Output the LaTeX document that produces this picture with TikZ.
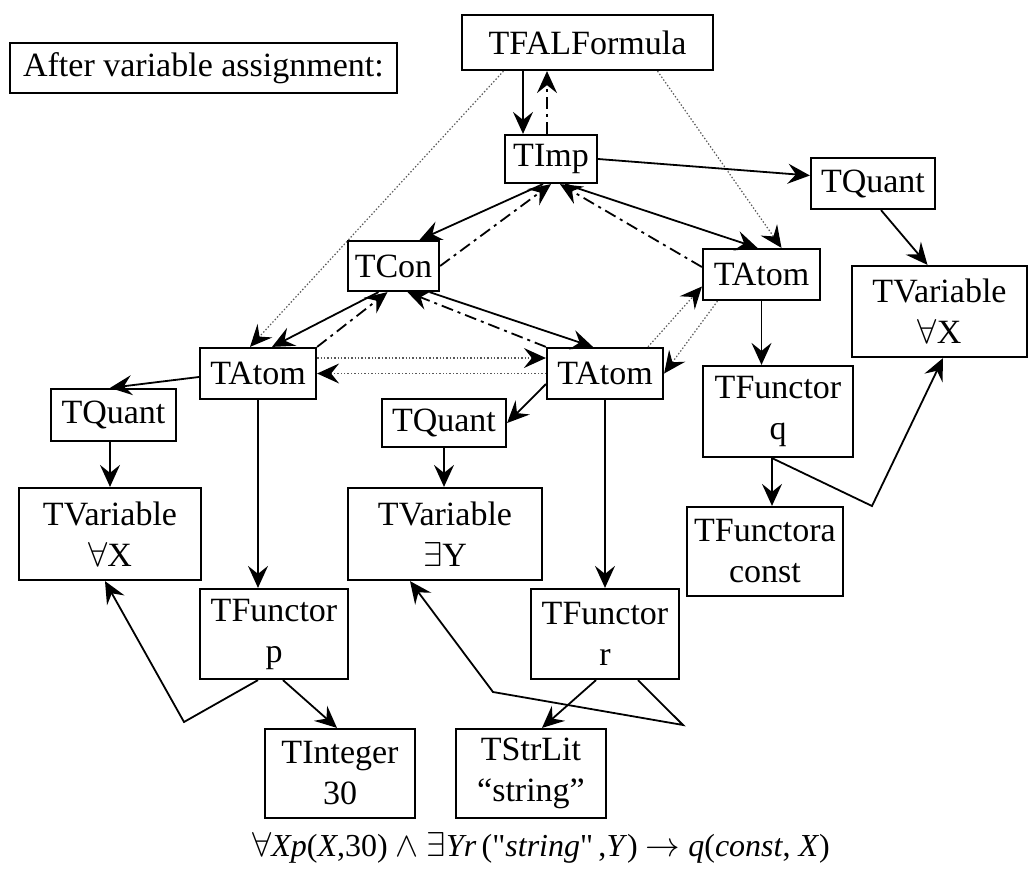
\documentclass[tikz,border=0pt]{standalone}
\usepackage{fontspec}
\setmainfont{Liberation Serif}
\newfontfamily\eqfont[Ligatures=TeXOff]{Liberation Serif}
\usetikzlibrary{arrows.meta}
\tikzset{
  box/.style={draw, line width=1.1pt, inner sep=0pt, align=center,
    font=\fontsize{17}{20.5}\selectfont},
  fwd/.style={-{Stealth[length=11pt,width=10pt,inset=4pt]}, line width=0.9pt},
  back/.style={fwd, dash pattern=on 6pt off 2.5pt on 1.5pt off 2.5pt},
  link/.style={-{Stealth[length=11pt,width=10pt,inset=4pt,color=black]},
    line width=0.6pt, draw=black!65, dash pattern=on 0.7pt off 1pt}
}
\begin{document}
\begin{tikzpicture}[x=0.5pt,y=-0.5pt]
            \useasboundingbox (0,0) rectangle (1029,884);
            \node[box,anchor=west,minimum height=25pt,inner xsep=6.5pt] (Note) at (9,68) {After variable assignment:};
            \node[box,minimum width=125.5pt,minimum height=27.5pt] (F) at (587.5,42.5) {TFALFormula};
            \node[box,minimum width=46pt,minimum height=24pt] (Imp) at (551,159) {TImp};
            \node[box,minimum width=62pt,minimum height=25.5pt] (QuR) at (873,183.5) {TQuant};
            \node[box,minimum width=45.5pt,minimum height=25pt] (Con) at (393.5,266) {TCon};
            \node[box,minimum width=58.5pt,minimum height=25.5pt] (AtR) at (761.5,274.5) {TAtom};
            \node[box,minimum width=87.5pt,minimum height=45.5pt] (VaR) at (939.5,311.5) {TVariable\\$\forall$X};
            \node[box,minimum width=58pt,minimum height=25.5pt] (AtL) at (258,373.5) {TAtom};
            \node[box,minimum width=58pt,minimum height=25.5pt] (AtM) at (605,373.5) {TAtom};
            \node[box,minimum width=62.5pt,minimum height=26pt] (QuL) at (113.5,415) {TQuant};
            \node[box,minimum width=62pt,minimum height=24pt] (QuM) at (444,423) {TQuant};
            \node[box,minimum width=75pt,minimum height=45.5pt] (FnQ) at (778,411.5) {TFunctor\\q};
            \node[box,minimum width=91pt,minimum height=46pt] (VaL) at (110,534) {TVariable\\$\forall$X};
            \node[box,minimum width=97pt,minimum height=46pt] (VaM) at (445,534) {TVariable\\$\exists$Y};
            \node[box,minimum width=78pt,minimum height=44.5pt] (Cst) at (765,551.5) {TFunctora\\const};
            \node[box,minimum width=74pt,minimum height=45pt] (FnP) at (274,634) {TFunctor\\p};
            \node[box,minimum width=74pt,minimum height=45pt] (FnR) at (605,634) {TFunctor\\r};
            \node[box,minimum width=75pt,minimum height=44.5pt] (Int) at (340,773.5) {TInteger\\30};
            \node[box,minimum width=75pt,minimum height=44.5pt] (Str) at (531,773.5) {TStrLit\\``string''};
            \node[font=\eqfont\fontsize{16}{19}\selectfont] (Eq) at (541,848) {$\forall$\textit{Xp}(\textit{X},30) $\wedge$ $\exists$\textit{Yr}\,("\textit{string}"\,,\textit{Y}) $\rightarrow$ \textit{q}(\textit{const}, \textit{X})};
            \draw[fwd] ([xshift=-32.25pt]F.south) -- ([xshift=-14pt]Imp.north);
            \draw[back] ([xshift=-2pt]Imp.north) -- ([xshift=-20.25pt]F.south);
            \draw[link] ([xshift=-42pt]F.south) -- ([xshift=-4pt]AtL.north);
            \draw[link] ([xshift=35pt]F.south) -- ([xshift=10pt]AtR.north);
            \draw[fwd] (Imp.east) -- ([yshift=4pt]QuR.west);
            \draw[fwd] ([xshift=-4pt]Imp.south) -- ([xshift=13pt]Con.north);
            \draw[back] (Con.east) -- (Imp.south);
            \draw[fwd] ([xshift=7pt]Imp.south) -- ([xshift=-2pt]AtR.north);
            \draw[back] ([yshift=3.75pt]AtR.west) -- ([xshift=4.5pt]Imp.south);
            \draw[fwd] ([xshift=-7.5pt]Con.south) -- ([xshift=7pt]AtL.north);
            \draw[back] (AtL.north east) -- ([xshift=-3pt]Con.south);
            \draw[fwd] ([xshift=18pt]Con.south) -- ([xshift=-6pt]AtM.north);
            \draw[back] (AtM.north west) -- ([xshift=7pt]Con.south);
            \draw[link] ([yshift=7.75pt]AtL.east) -- ([yshift=7.75pt]AtM.west);
            \draw[link] (AtM.west) -- (AtL.east);
            \draw[link] ([xshift=21.5pt]AtM.north) -- ([yshift=-6pt]AtR.west);
            \draw[link] ([xshift=-22pt]AtR.south) -- (AtM.east);
            \draw[fwd] ([yshift=-1.75pt]AtL.west) -- ([xshift=-1.75pt]QuL.north);
            \draw[fwd] (AtL.south) -- (AtL.south |- FnP.north);
            \draw[fwd] (VaL.north |- QuL.south) -- (VaL.north);
            \draw[fwd] ([yshift=8pt]AtM.south west) -- (QuM.east);
            \draw[fwd] (AtM.south) -- (FnR.north);
            \draw[fwd] (QuM.south) -- (QuM.south |- VaM.north);
            \draw[fwd] (AtR.south) -- (AtR.south |- FnQ.north);
            \draw[fwd] ([xshift=4pt]QuR.south) -- ([xshift=-6pt]VaR.north);
            \draw[fwd] ([xshift=-3pt]FnQ.south) -- ([xshift=3.5pt]Cst.north);
            \coordinate (kq) at (872,506);
            \draw[fwd] ([xshift=-3pt]FnQ.south) -- (kq) -- ([xshift=1.75pt]VaR.south);
            \draw[fwd] ([xshift=4.5pt]FnP.south) -- ([xshift=-1.5pt]Int.north);
            \coordinate (kp) at (184,722);
            \draw[fwd] ([xshift=-8pt]FnP.south) -- (kp) -- ([xshift=-2.5pt]VaL.south);
            \draw[fwd] ([xshift=-4.5pt]FnR.south) -- ([xshift=5.5pt]Str.north);
            \coordinate (kr1) at (683,725);
            \coordinate (kr2) at (493,692);
            \draw[fwd] ([xshift=16.5pt]FnR.south) -- (kr1) -- (kr2) -- ([xshift=-17.5pt]VaM.south);
        \end{tikzpicture}
\end{document}
